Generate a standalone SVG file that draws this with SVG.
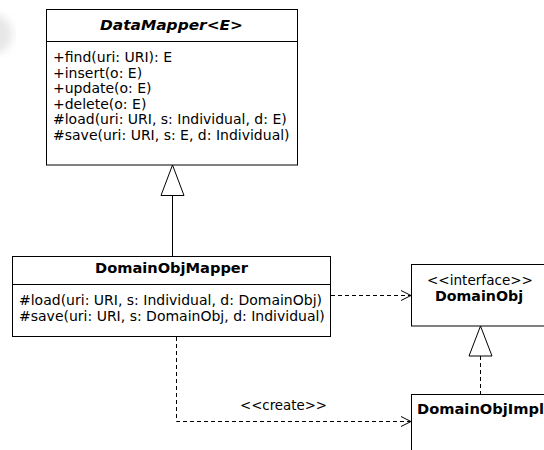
<svg xmlns="http://www.w3.org/2000/svg" width="544" height="450" viewBox="0 0 544 450">
<style>
.box{fill:#fff;stroke:#000;stroke-width:1}
.t{font-family:"DejaVu Sans",Verdana,sans-serif;font-size:14px;fill:#000}
.b{font-weight:bold}
.c{text-anchor:middle}
.ln{fill:none;stroke:#000;stroke-width:1}
.dash{stroke-dasharray:4,3}
.tri{fill:#fff;stroke:#000;stroke-width:1}
</style>
<defs>
<filter id="blur"><feGaussianBlur stdDeviation="4"/></filter>
</defs>
<rect width="544" height="450" fill="#fff"/>
<circle cx="-8" cy="34" r="20" fill="#e6e6e6" filter="url(#blur)"/>
<g id="connectors">
<polygon class="tri" points="172.5,165 161,195.5 184,195.5"/>
<line class="ln" x1="172.5" y1="195.5" x2="172.5" y2="256"/>
<line class="ln dash" x1="331" y1="295.5" x2="410" y2="295.5"/>
<polyline class="ln" points="401,290.5 411,295.5 401,300.5"/>
<polygon class="tri" points="480.5,326 469,356 492,356"/>
<line class="ln dash" x1="480.5" y1="356" x2="480.5" y2="394"/>
<path class="ln dash" d="M176.5,337 V421.5 H410"/>
<polyline class="ln" points="401,416.5 411,421.5 401,426.5"/>
<text class="t" x="240" y="410" textLength="87" lengthAdjust="spacingAndGlyphs">&lt;&lt;create&gt;&gt;</text>
</g>
<g id="DataMapper">
<rect class="box" x="46.5" y="9.5" width="251" height="155.5"/>
<line class="ln" x1="46.5" y1="41.5" x2="297.5" y2="41.5"/>
<text class="t b" x="100" y="30" font-style="italic" textLength="143" lengthAdjust="spacingAndGlyphs">DataMapper&lt;E&gt;</text>
<text class="t" x="53" y="62">+find(uri: URI): E</text>
<text class="t" x="53" y="77.5">+insert(o: E)</text>
<text class="t" x="53" y="93">+update(o: E)</text>
<text class="t" x="53" y="108.5">+delete(o: E)</text>
<text class="t" x="53" y="124">#load(uri: URI, s: Individual, d: E)</text>
<text class="t" x="53" y="139.5">#save(uri: URI, s: E, d: Individual)</text>
</g>
<g id="DomainObjMapper">
<rect class="box" x="12.5" y="256.5" width="318" height="80"/>
<line class="ln" x1="12.5" y1="284.5" x2="330.5" y2="284.5"/>
<text class="t b" x="95" y="273" textLength="153" lengthAdjust="spacingAndGlyphs">DomainObjMapper</text>
<text class="t" x="19" y="305">#load(uri: URI, s: Individual, d: DomainObj)</text>
<text class="t" x="19" y="321">#save(uri: URI, s: DomainObj, d: Individual)</text>
</g>
<g id="DomainObj">
<rect class="box" x="411.5" y="264.5" width="140" height="61.5"/>
<text class="t" x="427" y="285" textLength="106" lengthAdjust="spacingAndGlyphs">&lt;&lt;interface&gt;&gt;</text>
<text class="t b" x="435" y="301" textLength="88" lengthAdjust="spacingAndGlyphs">DomainObj</text>
</g>
<g id="DomainObjImpl">
<rect class="box" x="411.5" y="394.5" width="140" height="80"/>
<text class="t b" x="417" y="414" textLength="127" lengthAdjust="spacingAndGlyphs">DomainObjImpl</text>
</g>
</svg>
